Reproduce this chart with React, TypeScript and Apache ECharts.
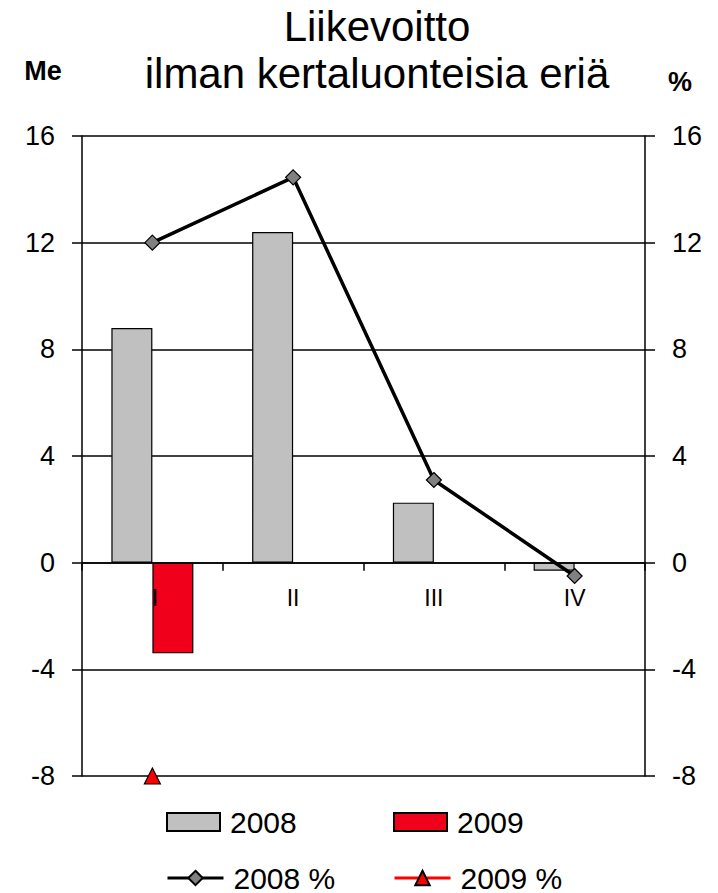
import React, { useEffect, useRef } from "react";
import * as echarts from "echarts";

const categories = ["I", "II", "III", "IV"];
const profit2008 = [8.8, 12.4, 2.25, -0.3];
const profit2009 = [-3.4, null, null, null];
const pct2008 = [12.0, 14.45, 3.1, -0.5];
const pct2009 = [-8, null, null, null];
const axisMin = -8;
const axisMax = 16;
const axisInterval = 4;
const titleLines = ["Liikevoitto", "ilman kertaluonteisia eriä"];
const leftUnit = "Me";
const rightUnit = "%";
const seriesNames = ["2008", "2009", "2008 %", "2009 %"];

const FONT = "'Liberation Sans', Arial, Helvetica, sans-serif";

export default function App() {
  const ref = useRef<HTMLDivElement>(null);
  useEffect(() => {
    if (!ref.current) return;
    const chart = echarts.init(ref.current, undefined, { renderer: "svg" });
    const legendBase = {
      orient: "horizontal",
      padding: 0,
      selectedMode: false,
      itemWidth: 53,
      itemHeight: 18,
      textStyle: {
        fontSize: 30,
        lineHeight: 30,
        color: "#000",
        fontFamily: FONT,
        padding: [0, 0, 0, 5],
      },
    };
    const yBase = {
      type: "value",
      min: axisMin,
      max: axisMax,
      interval: axisInterval,
      z: 0,
      axisLine: { show: true, lineStyle: { color: "#000", width: 1.5 } },
      axisTick: { show: true, length: 10, lineStyle: { color: "#000", width: 1.5 } },
      axisLabel: { fontSize: 27, color: "#000", fontFamily: FONT, margin: 27 },
    };
    chart.setOption({
      animation: false,
      textStyle: { fontFamily: FONT },
      title: {
        text: titleLines.join("\n"),
        left: 377,
        top: 3,
        textAlign: "center",
        padding: 0,
        textStyle: {
          fontSize: 42,
          lineHeight: 47,
          fontWeight: "normal",
          color: "#000",
          fontFamily: FONT,
        },
      },
      graphic: [
        {
          type: "text",
          x: 43,
          y: 71,
          style: {
            text: leftUnit,
            font: `bold 27px ${FONT}`,
            fill: "#000",
            align: "center",
            verticalAlign: "middle",
          },
        },
        {
          type: "text",
          x: 680,
          y: 82,
          style: {
            text: rightUnit,
            font: `bold 27px ${FONT}`,
            fill: "#000",
            align: "center",
            verticalAlign: "middle",
          },
        },
      ],
      legend: [
        { ...legendBase, data: [{ name: seriesNames[0], icon: "rect" }], left: 166, top: 807 },
        { ...legendBase, data: [{ name: seriesNames[1], icon: "rect" }], left: 393, top: 807 },
        { ...legendBase, itemWidth: 56, lineStyle: { width: 3 }, data: [seriesNames[2]], left: 166, top: 863 },
        { ...legendBase, itemWidth: 56, lineStyle: { width: 3 }, data: [seriesNames[3]], left: 393, top: 863 },
      ],
      grid: { left: 82, right: 73, top: 136, bottom: 117, containLabel: false },
      xAxis: {
        type: "category",
        data: categories,
        boundaryGap: true,
        zlevel: 1,
        z: 4,
        axisLine: {
          show: true,
          onZero: true,
          onZeroAxisIndex: 0,
          lineStyle: { color: "#000", width: 1.5 },
        },
        axisTick: { show: true, length: 8, alignWithLabel: false, lineStyle: { color: "#000", width: 1.5 } },
        axisLabel: {
          fontSize: 23,
          color: "#000",
          fontFamily: FONT,
          margin: -190,
          formatter: (v: string, i: number) => (i === 0 ? `{first|${v}}` : v),
          rich: {
            first: { fontSize: 23, color: "#000", fontFamily: FONT, padding: [0, 0, 0, 5] },
          },
        },
        splitLine: { show: false },
      },
      yAxis: [
        {
          ...yBase,
          position: "left",
          splitLine: { show: true, lineStyle: { color: "#000", width: 1.5 } },
        },
        {
          ...yBase,
          position: "right",
          splitLine: { show: false },
        },
      ],
      series: [
        {
          name: seriesNames[0],
          type: "bar",
          data: profit2008,
          barWidth: 41,
          barGap: "0%",
          z: 1,
          itemStyle: { color: "#C0C0C0", borderColor: "#000", borderWidth: 1.2 },
        },
        {
          name: seriesNames[1],
          type: "bar",
          data: profit2009,
          barWidth: 41,
          barGap: "0%",
          z: 1,
          itemStyle: { color: "#F0001A", borderColor: "#000", borderWidth: 1.2 },
        },
        {
          name: seriesNames[2],
          type: "line",
          yAxisIndex: 1,
          data: pct2008,
          symbol: "diamond",
          symbolSize: 15,
          showAllSymbol: true,
          zlevel: 2,
          lineStyle: { color: "#000", width: 3.5 },
          itemStyle: { color: "#808080", borderColor: "#000", borderWidth: 1.2 },
          z: 6,
        },
        {
          name: seriesNames[3],
          type: "line",
          yAxisIndex: 1,
          data: pct2009,
          symbol: "triangle",
          symbolSize: 16,
          showAllSymbol: true,
          zlevel: 2,
          lineStyle: { color: "#FF0000", width: 3.5 },
          itemStyle: { color: "#FF0000", borderColor: "#000", borderWidth: 1.2 },
          z: 6,
        },
      ],
    });
    return () => chart.dispose();
  }, []);
  return (
    <div
      ref={ref}
      style={{ position: "fixed", left: 0, top: 0, width: 718, height: 893, background: "#fff" }}
    />
  );
}
